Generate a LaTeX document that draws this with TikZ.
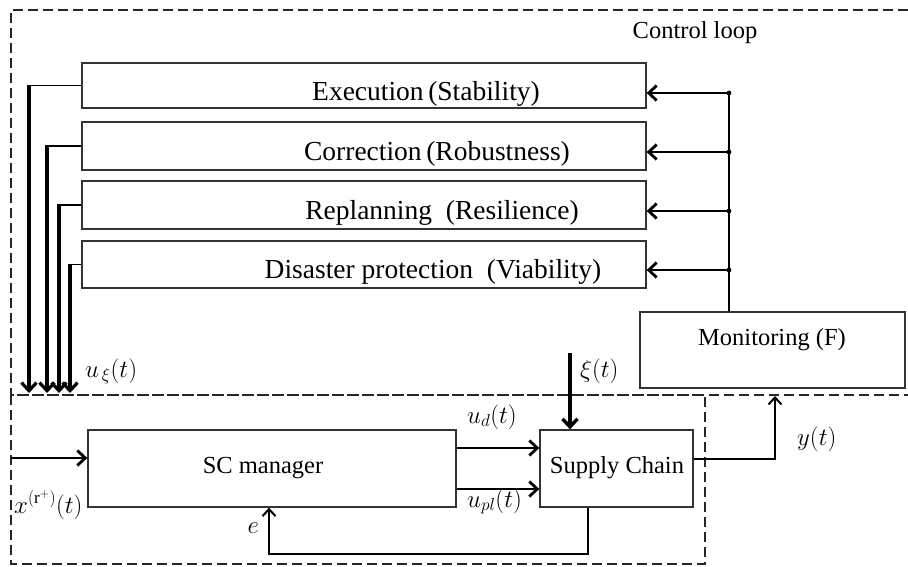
\documentclass[tikz,border=0pt]{standalone}
\usepackage{amsmath}
\usepackage{fontspec}
\setmainfont{Liberation Serif}
\usepackage{tikz}
\usetikzlibrary{arrows.meta}

\begin{document}
\begin{tikzpicture}[x=1pt,y=-1pt]
        \tikzstyle{box}=[draw=black!80, line width=1.3pt, inner sep=0pt]
        \tikzstyle{txt}=[inner sep=0pt, font=\fontsize{24.5}{29}\selectfont]
        \tikzstyle{bigtxt}=[inner sep=0pt, font=\fontsize{27.5}{32}\selectfont]
        \tikzstyle{frame}=[line width=2.3pt, dash pattern=on 10pt off 5pt, black!85]
        \tikzstyle{arr}=[line width=2.8pt, -{Straight Barb[length=8pt,width=15pt]}]
        \tikzstyle{thinarr}=[line width=2pt, -{Straight Barb[length=7pt,width=13pt]}]
        \tikzstyle{link}=[line width=1.3pt]

        \useasboundingbox (0,0) rectangle (908,566);

        \draw[frame] (908,10) -- (11,10) -- (11,395) -- (908,395);
        \draw[frame] (11,395) rectangle (705,564);
        \node (loop) [txt, anchor=base] at (695,38) {Control loop};

        \node (exec) [box, minimum width=564pt, minimum height=45pt] at (364,85.5) {};
        \node (corr) [box, minimum width=564pt, minimum height=48pt] at (364,146) {};
        \node (repl) [box, minimum width=564pt, minimum height=48pt] at (364,205) {};
        \node (dis)  [box, minimum width=564pt, minimum height=47pt] at (364,264.5) {};
        \node (exec-t) [bigtxt, anchor=base] at (426,100) {Execution\,(Stability)};
        \node (corr-t) [bigtxt, anchor=base] at (437,160) {Correction\,(Robustness)};
        \node (repl-t) [bigtxt, anchor=base] at (442,219) {Replanning\enspace(Resilience)};
        \node (dis-t)  [bigtxt, anchor=base] at (433,278) {Disaster protection\enspace(Viability)};

        \node (mon) [box, minimum width=265pt, minimum height=76pt] at (772.5,350) {};
        \node (mon-t) [txt, anchor=base] at (772,345) {Monitoring (F)};

        \node (scm) [box, minimum width=368pt, minimum height=77pt] at (272,468.5) {};
        \node (scm-t) [txt, anchor=base] at (263,473) {SC manager};
        \node (sc) [box, minimum width=153pt, minimum height=77pt] at (616.5,468.5) {};
        \node (sc-t) [txt, anchor=base] at (617,473) {Supply Chain};

        \coordinate (base) at (0,393);
        \foreach \b/\x in {exec/29, corr/47, repl/59, dis/70} {
            \draw[link] (\b.west) -- (\x,0 |- \b.west) coordinate (k-\b);
            \draw[arr, line width=3.2pt] ([yshift=0.6pt]k-\b) -- (k-\b |- base);
        }
        \node (uxi) [txt, anchor=base west] at (85,377) {$u_{\,\xi}(t)$};

        \coordinate (tap) at (729,312);
        \draw[link] (tap) -- (tap |- 0,93);
        \foreach \b/\y in {exec/93, corr/152, repl/211, dis/270} {
            \fill (tap |- 0,\y) coordinate (d-\b) circle (2.4pt);
            \draw[arr] (d-\b) -- (\b.east |- d-\b);
        }

        \coordinate (xin) at (11,458);
        \draw[arr] (xin) -- (scm.west |- xin);
        \node (x-l) [txt, anchor=base west] at (14,513) {$x^{(\mathrm{r}^{+})}(t)$};

        \draw[arr] ([yshift=20.5pt]scm.east) -- ([yshift=20.5pt]sc.west);
        \draw[arr] ([yshift=-20.5pt]scm.east) -- ([yshift=-20.5pt]sc.west);
        \node (ud-l)  [txt, anchor=base west] at (467,423) {$u_{d}(t)$};
        \node (upl-l) [txt, anchor=base west] at (467,507) {$u_{pl}(t)$};

        \coordinate (xi) at (570,353);
        \draw[arr, line width=3.4pt] (xi) -- (xi |- sc.north);
        \node (xi-l) [txt, anchor=base west] at (580,377) {$\xi(t)$};

        \coordinate (yout) at (775,396);
        \draw[thinarr] ([yshift=9.5pt]sc.east) -| (yout);
        \node (y-l) [txt, anchor=base west] at (797,445) {$y(t)$};

        \draw[thinarr] ([xshift=-28.5pt]sc.south) -- ++(0,46) -| ([xshift=-3pt]scm.south);
        \node (e-l) [txt, anchor=base east] at (259,533) {$e$};

    \end{tikzpicture}
\end{document}
